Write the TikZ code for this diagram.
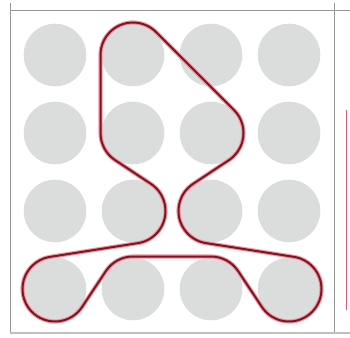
\documentclass[tikz,border=0pt]{standalone}
\usetikzlibrary{calc}
\definecolor{dotgray}{RGB}{219,221,221}
\definecolor{framegray}{RGB}{150,150,150}
\definecolor{haloPink}{RGB}{242,150,162}
\definecolor{coreRed}{RGB}{125,22,35}
\definecolor{edgeRed}{RGB}{215,95,115}
\tikzset{
  dot/.style={fill=dotgray, draw=none},
  frameline/.style={draw=framegray, line width=0.9pt},
  halo/.style={draw=haloPink, line width=4.2pt, line join=round},
  core/.style={draw=coreRed, line width=2pt, line join=round}
}
\begin{document}
\begin{tikzpicture}[x=1pt,y=-1pt]
\useasboundingbox (0,0) rectangle (350,337);
\fill[white] (0,0) rectangle (350,337);
% grid of dots
\foreach \i in {0,1,2,3}{
  \foreach \j in {0,1,2,3}{
    \fill[dot] ({55+78*\i},{55+78*\j}) circle[radius=31.3];
  }
}
% frame
\draw[frameline] (10,10) -- (350,10);
\draw[frameline] (10,3) -- (10,333);
\draw[frameline] (334,3) -- (334,333);
\draw[draw=framegray!60, line width=1.6pt] (10,333) -- (350,333);
\draw[draw=edgeRed, line width=1.4pt] (346.5,110) -- (346.5,310);
% the closed curve
\def\curvepath{(100.5,55) arc[start angle=180, end angle=315, radius=32.5]
 -- (233.98,110.02) arc[start angle=-45, end angle=56.4, radius=32.5]
 -- (193.03,183.92) arc[start angle=236.4, end angle=98.9, radius=32.5]
 -- (294.02,256.89) arc[start angle=-81.1, end angle=146.4, radius=32.5]
 -- (238.08,271.03) arc[start angle=-33.6, end angle=-90, radius=32.5]
 -- (133,256.5) arc[start angle=-90, end angle=-146.4, radius=32.5]
 -- (82.08,306.97) arc[start angle=33.6, end angle=261.1, radius=32.5]
 -- (138.02,243.11) arc[start angle=81.1, end angle=-56.4, radius=32.5]
 -- (115.03,160.08) arc[start angle=123.6, end angle=180, radius=32.5]
 -- cycle}
\draw[halo] \curvepath;
\draw[core] \curvepath;
\end{tikzpicture}
\end{document}
